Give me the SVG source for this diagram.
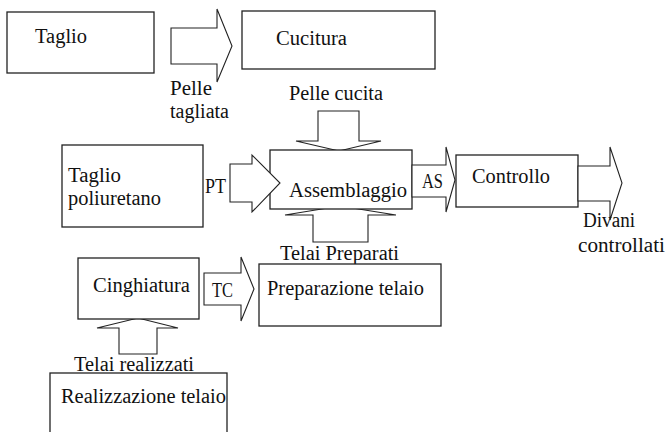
<svg xmlns="http://www.w3.org/2000/svg" width="667" height="432" viewBox="0 0 667 432" font-family="Liberation Serif, Times New Roman, serif" font-size="20">
<style>
.box{fill:#fff;stroke:#222;stroke-width:1.3}
.arr{fill:#fff;stroke:#222;stroke-width:1.1;stroke-linejoin:miter}
.t{fill:#111}
</style>
<rect width="667" height="432" fill="#fff"/>
<g id="connectors">
<polygon class="arr" points="171,28 217,28 217,9 232,46 217,82 217,64 171,64"/>
<polygon class="arr" points="318,111 359,111 359,141 381,141 339,151 296,141 318,141"/>
<polygon class="arr" points="313,242 313,215 285,215 340,206 396,215 368,215 368,242"/>
<polygon class="arr" points="204,273 241,273 241,257 254,289 241,321 241,305 204,305"/>
<polygon class="arr" points="119,354 119,328 97,328 138,318 178,328 157,328 157,354"/>
</g>
<g id="n-taglio"><rect class="box" x="7" y="12" width="147" height="61"/><text class="t" x="35" y="43" textLength="52" lengthAdjust="spacingAndGlyphs">Taglio</text></g>
<g id="n-cucitura"><rect class="box" x="242" y="11" width="193" height="58"/><text class="t" x="276" y="45" textLength="71" lengthAdjust="spacingAndGlyphs">Cucitura</text></g>
<g id="l-pelle-tagliata"><text class="t" x="170" y="95" textLength="42" lengthAdjust="spacingAndGlyphs">Pelle</text><text class="t" x="170" y="118" textLength="59" lengthAdjust="spacingAndGlyphs">tagliata</text></g>
<g id="l-pelle-cucita"><text class="t" x="289" y="100" textLength="94" lengthAdjust="spacingAndGlyphs">Pelle cucita</text></g>
<g id="n-assemblaggio"><rect class="box" x="270" y="150" width="142" height="59"/><text class="t" x="289" y="197" textLength="118" lengthAdjust="spacingAndGlyphs">Assemblaggio</text></g>
<g id="c-pt"><polygon class="arr" points="230,164 252,164 252,155 280,183 252,212 252,202 230,202"/><text class="t" x="205" y="193" textLength="21" lengthAdjust="spacingAndGlyphs">PT</text></g>
<g id="n-taglio-poli"><rect class="box" x="62" y="145" width="141" height="82"/><text class="t" x="68" y="182" textLength="53" lengthAdjust="spacingAndGlyphs">Taglio</text><text class="t" x="68" y="205" textLength="93" lengthAdjust="spacingAndGlyphs">poliuretano</text></g>
<g id="c-as"><polygon class="arr" points="412,165 446,165 446,147 455,180 446,212 446,197 412,197"/><text class="t" x="422" y="188" textLength="21" lengthAdjust="spacingAndGlyphs">AS</text></g>
<g id="n-controllo"><rect class="box" x="456" y="155" width="122" height="52"/><text class="t" x="472" y="183" textLength="78" lengthAdjust="spacingAndGlyphs">Controllo</text></g>
<g id="c-out"><polygon class="arr" points="578,166 610,166 610,147 622,183 610,220 610,201 578,201"/><text class="t" x="583" y="227" textLength="52" lengthAdjust="spacingAndGlyphs">Divani</text><text class="t" x="578" y="252" textLength="87" lengthAdjust="spacingAndGlyphs">controllati</text></g>
<g id="l-telai-preparati"><text class="t" x="280" y="260" textLength="119" lengthAdjust="spacingAndGlyphs">Telai Preparati</text></g>
<g id="n-cinghiatura"><rect class="box" x="78" y="258" width="121" height="61"/><text class="t" x="93" y="292" textLength="97" lengthAdjust="spacingAndGlyphs">Cinghiatura</text></g>
<g id="l-tc"><text class="t" x="212" y="297" textLength="21" lengthAdjust="spacingAndGlyphs">TC</text></g>
<g id="n-preparazione"><rect class="box" x="259" y="264" width="182" height="62"/><text class="t" x="267" y="295" textLength="157" lengthAdjust="spacingAndGlyphs">Preparazione telaio</text></g>
<g id="l-telai-realizzati"><text class="t" x="74" y="371" textLength="120" lengthAdjust="spacingAndGlyphs">Telai realizzati</text></g>
<g id="n-realizzazione"><rect class="box" x="50" y="373" width="177" height="70"/><text class="t" x="61" y="403" textLength="165" lengthAdjust="spacingAndGlyphs">Realizzazione telaio</text></g>
</svg>
